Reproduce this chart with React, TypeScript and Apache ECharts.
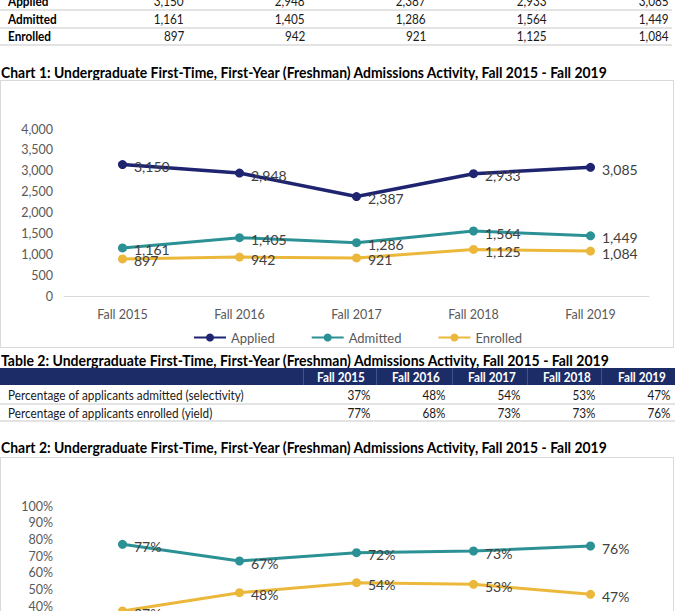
import React, { useEffect, useRef } from "react";
import * as echarts from "echarts";

const categories = ["Fall 2015", "Fall 2016", "Fall 2017", "Fall 2018", "Fall 2019"];
const applied = [3150, 2948, 2387, 2933, 3085];
const admitted = [1161, 1405, 1286, 1564, 1449];
const enrolled = [897, 942, 921, 1125, 1084];
const tableSelectivity = [37, 48, 54, 53, 47];
const tableYield = [77, 68, 73, 73, 76];
const chartYield = [77, 67, 72, 73, 76];
const chartSelectivity = [37, 48, 54, 53, 47];

const TITLE1 = "Chart 1: Undergraduate First-Time, First-Year (Freshman) Admissions Activity, Fall 2015 - Fall 2019";
const TITLE_T2 = "Table 2: Undergraduate First-Time, First-Year (Freshman) Admissions Activity, Fall 2015 - Fall 2019";
const TITLE2 = "Chart 2: Undergraduate First-Time, First-Year (Freshman) Admissions Activity, Fall 2015 - Fall 2019";

const NAVY = "#1f2470";
const TEAL = "#2b9194";
const GOLD = "#ebb83b";
const FONT = "Lato, 'Open Sans', sans-serif";

const fmt = (v: number) => v.toLocaleString("en-US");

function measure(text: string, font: string) {
  const c = document.createElement("canvas").getContext("2d");
  if (!c) return text.length * 7;
  c.font = font;
  return c.measureText(text).width;
}

function FitText({ text, x, cy, width, size, bold }: any) {
  const font = `${bold ? "bold " : ""}${size}px Lato`;
  const w = measure(text, font);
  const s = width / w;
  return (
    <div
      style={{
        position: "absolute",
        left: x,
        top: cy - 10,
        height: 20,
        lineHeight: "20px",
        fontFamily: FONT,
        fontSize: size,
        fontWeight: bold ? 700 : 400,
        color: "#000",
        whiteSpace: "nowrap",
        transform: `scaleX(${s})`,
        transformOrigin: "left center",
      }}
    >
      {text}
    </div>
  );
}

function Cell({ text, left, right, cy, bold, color, size }: any) {
  const style: any = {
    position: "absolute",
    top: cy - 9,
    height: 18,
    lineHeight: "18px",
    fontFamily: FONT,
    fontSize: size || 14,
    fontWeight: bold ? 700 : 400,
    color: color || "#1a1a1a",
    whiteSpace: "nowrap",
    transform: "scaleX(0.84)",
  };
  if (right !== undefined) {
    style.right = 680 - right;
    style.transformOrigin = "right center";
  } else {
    style.left = left;
    style.transformOrigin = "left center";
  }
  return <div style={style}>{text}</div>;
}

function HLine({ y, x1, x2, color, h }: any) {
  return (
    <div
      style={{
        position: "absolute",
        left: x1,
        top: y,
        width: x2 - x1,
        height: h || 2,
        background: color || "#e3e3e3",
      }}
    />
  );
}

const baseLabel = {
  show: true,
  position: "right" as const,
  distance: 7,
  offset: [0, 2],
  color: "#404040",
  fontSize: 14,
  fontFamily: FONT,
};

function lineSeries(name: string, data: number[], color: string, width: number, formatter: (p: any) => string) {
  return {
    name,
    type: "line",
    data,
    symbol: "circle",
    symbolSize: 9,
    itemStyle: { color },
    lineStyle: { color, width },
    label: { ...baseLabel, formatter },
    z: 2,
  };
}

const axisText = { color: "#595959", fontSize: 12.5, fontFamily: FONT };

function Chart1() {
  const ref = useRef<HTMLDivElement>(null);
  useEffect(() => {
    const chart = echarts.init(ref.current!, null, { renderer: "svg" });
    chart.setOption({
      animation: false,
      grid: { left: 63, top: 48, width: 585, height: 167.5 },
      xAxis: {
        type: "category",
        data: categories,
        axisLine: { lineStyle: { color: "#d9d9d9", width: 1 } },
        axisTick: { show: false },
        axisLabel: { ...axisText, margin: 11 },
      },
      yAxis: {
        type: "value",
        min: 0,
        max: 4000,
        interval: 500,
        splitLine: { show: false },
        axisLine: { show: false },
        axisTick: { show: false },
        axisLabel: { ...axisText, margin: 11, formatter: (v: number) => fmt(v) },
      },
      legend: {
        left: 187,
        top: 245,
        itemWidth: 32,
        itemHeight: 10,
        itemGap: 36,
        textStyle: { color: "#595959", fontSize: 13, fontFamily: FONT },
        data: ["Applied", "Admitted", "Enrolled"],
      },
      series: [
        lineSeries("Applied", applied, NAVY, 3.5, (p: any) => fmt(p.value)),
        lineSeries("Admitted", admitted, TEAL, 3, (p: any) => fmt(p.value)),
        lineSeries("Enrolled", enrolled, GOLD, 3, (p: any) => fmt(p.value)),
      ],
    });
    return () => chart.dispose();
  }, []);
  return (
    <div
      style={{
        position: "absolute",
        left: 0,
        top: 80,
        width: 674,
        height: 268,
        border: "1px solid #d9d9d9",
        boxSizing: "border-box",
      }}
    >
      <div ref={ref} style={{ width: 672, height: 266 }} />
    </div>
  );
}

function Chart2() {
  const ref = useRef<HTMLDivElement>(null);
  useEffect(() => {
    const chart = echarts.init(ref.current!, null, { renderer: "svg" });
    chart.setOption({
      animation: false,
      grid: { left: 63, top: 48, width: 585, height: 166.7 },
      xAxis: {
        type: "category",
        data: categories,
        axisLine: { lineStyle: { color: "#d9d9d9", width: 1 } },
        axisTick: { show: false },
        axisLabel: { ...axisText, margin: 11 },
      },
      yAxis: {
        type: "value",
        min: 0,
        max: 100,
        interval: 10,
        splitLine: { show: false },
        axisLine: { show: false },
        axisTick: { show: false },
        axisLabel: { ...axisText, margin: 11, formatter: (v: number) => `${v}%` },
      },
      series: [
        lineSeries("Percentage of applicants enrolled (yield)", chartYield, TEAL, 3, (p: any) => `${p.value}%`),
        lineSeries("Percentage of applicants admitted (selectivity)", chartSelectivity, GOLD, 3, (p: any) => `${p.value}%`),
      ],
    });
    return () => chart.dispose();
  }, []);
  return (
    <div
      style={{
        position: "absolute",
        left: 0,
        top: 457,
        width: 674,
        height: 268,
        border: "1px solid #d9d9d9",
        boxSizing: "border-box",
      }}
    >
      <div ref={ref} style={{ width: 672, height: 266 }} />
    </div>
  );
}

const t1Rights = [184, 305, 426, 547, 669];
const t2ValRights = [370, 445, 520, 595, 670];
const t2HeadRights = [365, 440, 516, 591, 666];
const t2Seps = [303, 376, 452, 527, 601];

export default function App() {
  const t1Rows = [
    { label: "Applied", values: applied, cy: 1 },
    { label: "Admitted", values: admitted, cy: 18.5 },
    { label: "Enrolled", values: enrolled, cy: 36 },
  ];
  const t2Rows = [
    { label: "Percentage of applicants admitted (selectivity)", values: tableSelectivity, cy: 395 },
    { label: "Percentage of applicants enrolled (yield)", values: tableYield, cy: 412.5 },
  ];
  return (
    <div
      style={{
        position: "fixed",
        left: 0,
        top: 0,
        width: 680,
        height: 611,
        overflow: "hidden",
        background: "#fff",
      }}
    >
      {t1Rows.map((r) => (
        <React.Fragment key={r.label}>
          <Cell text={r.label} left={8} cy={r.cy} bold color="#000" />
          {r.values.map((v, i) => (
            <Cell key={i} text={fmt(v)} right={t1Rights[i]} cy={r.cy} />
          ))}
        </React.Fragment>
      ))}
      <HLine y={9} x1={0} x2={672} />
      <HLine y={26.5} x1={0} x2={672} />
      <HLine y={43.5} x1={0} x2={672} />

      <FitText text={TITLE1} x={1} cy={72} width={607} size={15} bold />
      <Chart1 />

      <FitText text={TITLE_T2} x={1} cy={359.5} width={609} size={15} bold />
      <div style={{ position: "absolute", left: 0, top: 368, width: 675, height: 17, background: "#1c2c66" }} />
      {t2Seps.map((x, i) => (
        <div key={i} style={{ position: "absolute", left: x, top: 368, width: 1, height: 17, background: "#3c5590" }} />
      ))}
      {categories.map((c, i) => (
        <Cell key={c} text={c} right={t2HeadRights[i]} cy={376.5} bold color="#fff" />
      ))}
      {t2Rows.map((r) => (
        <React.Fragment key={r.label}>
          <Cell text={r.label} left={8} cy={r.cy} />
          {r.values.map((v, i) => (
            <Cell key={i} text={`${v}%`} right={t2ValRights[i]} cy={r.cy} />
          ))}
        </React.Fragment>
      ))}
      <HLine y={403} x1={0} x2={675} />
      <HLine y={420} x1={0} x2={675} />

      <FitText text={TITLE2} x={1} cy={447} width={607} size={15} bold />
      <Chart2 />
    </div>
  );
}
